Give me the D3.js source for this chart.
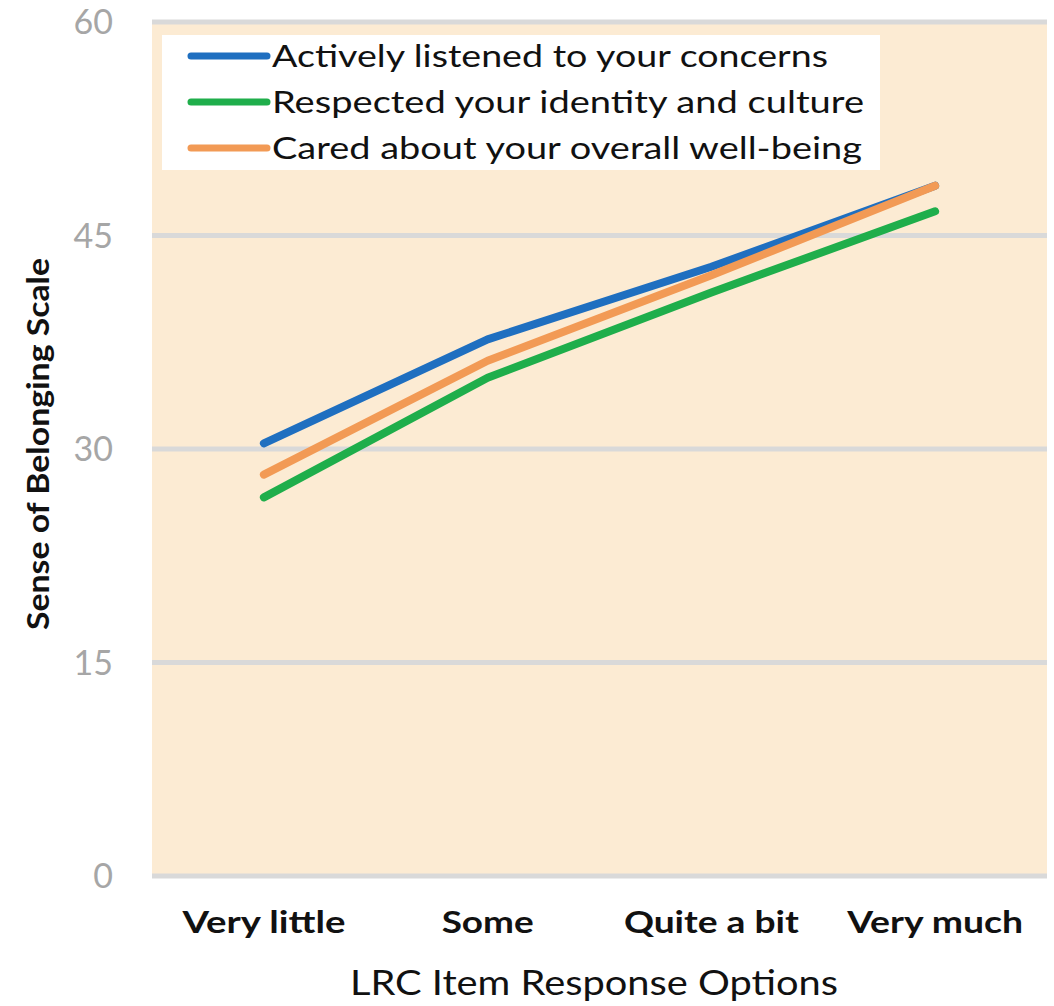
<!DOCTYPE html>
<html>
<head>
<meta charset="utf-8">
<script src="https://cdn.jsdelivr.net/npm/d3@7"></script>
<style>
  body { margin: 0; background: #fff; }
  svg { display: block; font-family: Lato, "Open Sans", sans-serif; }
</style>
</head>
<body>
<div id="chart"></div>
<script>
// data
var categories = ["Very little", "Some", "Quite a bit", "Very much"];
var seriesNames = ["Actively listened to your concerns",
                   "Respected your identity and culture",
                   "Cared about your overall well-being"];
var listened = [30.4, 37.7, 42.8, 48.5];
var respected = [26.6, 35.0, 41.0, 46.7];
var cared = [28.2, 36.2, 42.2, 48.5];
var yTicks = [0, 15, 30, 45, 60];
var colors = ["#1f6fc0", "#1fae4b", "#f29a55"];

var series = [
  {name: seriesNames[0], values: listened, color: colors[0]},
  {name: seriesNames[1], values: respected, color: colors[1]},
  {name: seriesNames[2], values: cared, color: colors[2]}
];

var W = 1054, H = 1006;
var plot = {left: 152, right: 1047, top: 22, bottom: 876};

var svg = d3.select("#chart").append("svg")
  .attr("width", W).attr("height", H);

var x = d3.scaleBand().domain(categories).range([plot.left, plot.right]);
var y = d3.scaleLinear().domain([0, 60]).range([plot.bottom, plot.top]);

// plot background
svg.append("rect")
  .attr("x", plot.left).attr("y", plot.top)
  .attr("width", plot.right - plot.left).attr("height", plot.bottom - plot.top)
  .attr("fill", "#fcebd3");

// gridlines
svg.selectAll(".grid").data(yTicks).enter().append("line")
  .attr("x1", plot.left).attr("x2", plot.right)
  .attr("y1", function(d){ return y(d); }).attr("y2", function(d){ return y(d); })
  .attr("stroke", "#d9d9d9")
  .attr("stroke-width", 5);

// y tick labels
svg.selectAll(".ytick").data(yTicks).enter().append("text")
  .attr("x", 113)
  .attr("y", function(d){ return y(d) + 12; })
  .attr("text-anchor", "end")
  .attr("font-size", 34)
  .attr("fill", "#a6a6a6")
  .text(function(d){ return d; });

// x tick labels
var xw = {"Very little": 163, "Some": 92, "Quite a bit": 175, "Very much": 176};
svg.selectAll(".xtick").data(categories).enter().append("text")
  .attr("x", function(d){ return x(d) + x.bandwidth() / 2; })
  .attr("y", 933)
  .attr("text-anchor", "middle")
  .attr("font-size", 31)
  .attr("font-weight", "bold")
  .attr("fill", "#111")
  .attr("textLength", function(d){ return xw[d]; })
  .attr("lengthAdjust", "spacingAndGlyphs")
  .text(function(d){ return d; });

// axis titles
svg.append("text")
  .attr("x", 594).attr("y", 995)
  .attr("text-anchor", "middle")
  .attr("font-size", 34)
  .attr("fill", "#111")
  .attr("textLength", 488)
  .attr("lengthAdjust", "spacingAndGlyphs")
  .text("LRC Item Response Options");

svg.append("text")
  .attr("transform", "translate(49,444) rotate(-90)")
  .attr("text-anchor", "middle")
  .attr("font-size", 30)
  .attr("font-weight", "bold")
  .attr("fill", "#111")
  .attr("textLength", 372)
  .attr("lengthAdjust", "spacingAndGlyphs")
  .text("Sense of Belonging Scale");

// lines
var line = d3.line()
  .x(function(d, i){ return x(categories[i]) + x.bandwidth() / 2; })
  .y(function(d){ return y(d); });

svg.selectAll(".series").data(series).enter().append("path")
  .attr("d", function(d){ return line(d.values); })
  .attr("fill", "none")
  .attr("stroke", function(d){ return d.color; })
  .attr("stroke-width", 8)
  .attr("stroke-linecap", "round")
  .attr("stroke-linejoin", "round");

// legend
var legend = svg.append("g");
legend.append("rect")
  .attr("x", 162).attr("y", 35)
  .attr("width", 718).attr("height", 135)
  .attr("fill", "#fff");

var legW = [556, 592, 590];
var item = legend.selectAll(".leg").data(series).enter().append("g")
  .attr("transform", function(d, i){ return "translate(0," + (56 + i * 46) + ")"; });
item.append("line")
  .attr("x1", 191).attr("x2", 267)
  .attr("stroke", function(d){ return d.color; })
  .attr("stroke-width", 7)
  .attr("stroke-linecap", "round");
item.append("text")
  .attr("x", 272).attr("y", 11)
  .attr("font-size", 31)
  .attr("fill", "#111")
  .attr("textLength", function(d, i){ return legW[i]; })
  .attr("lengthAdjust", "spacingAndGlyphs")
  .text(function(d){ return d.name; });
</script>
</body>
</html>
